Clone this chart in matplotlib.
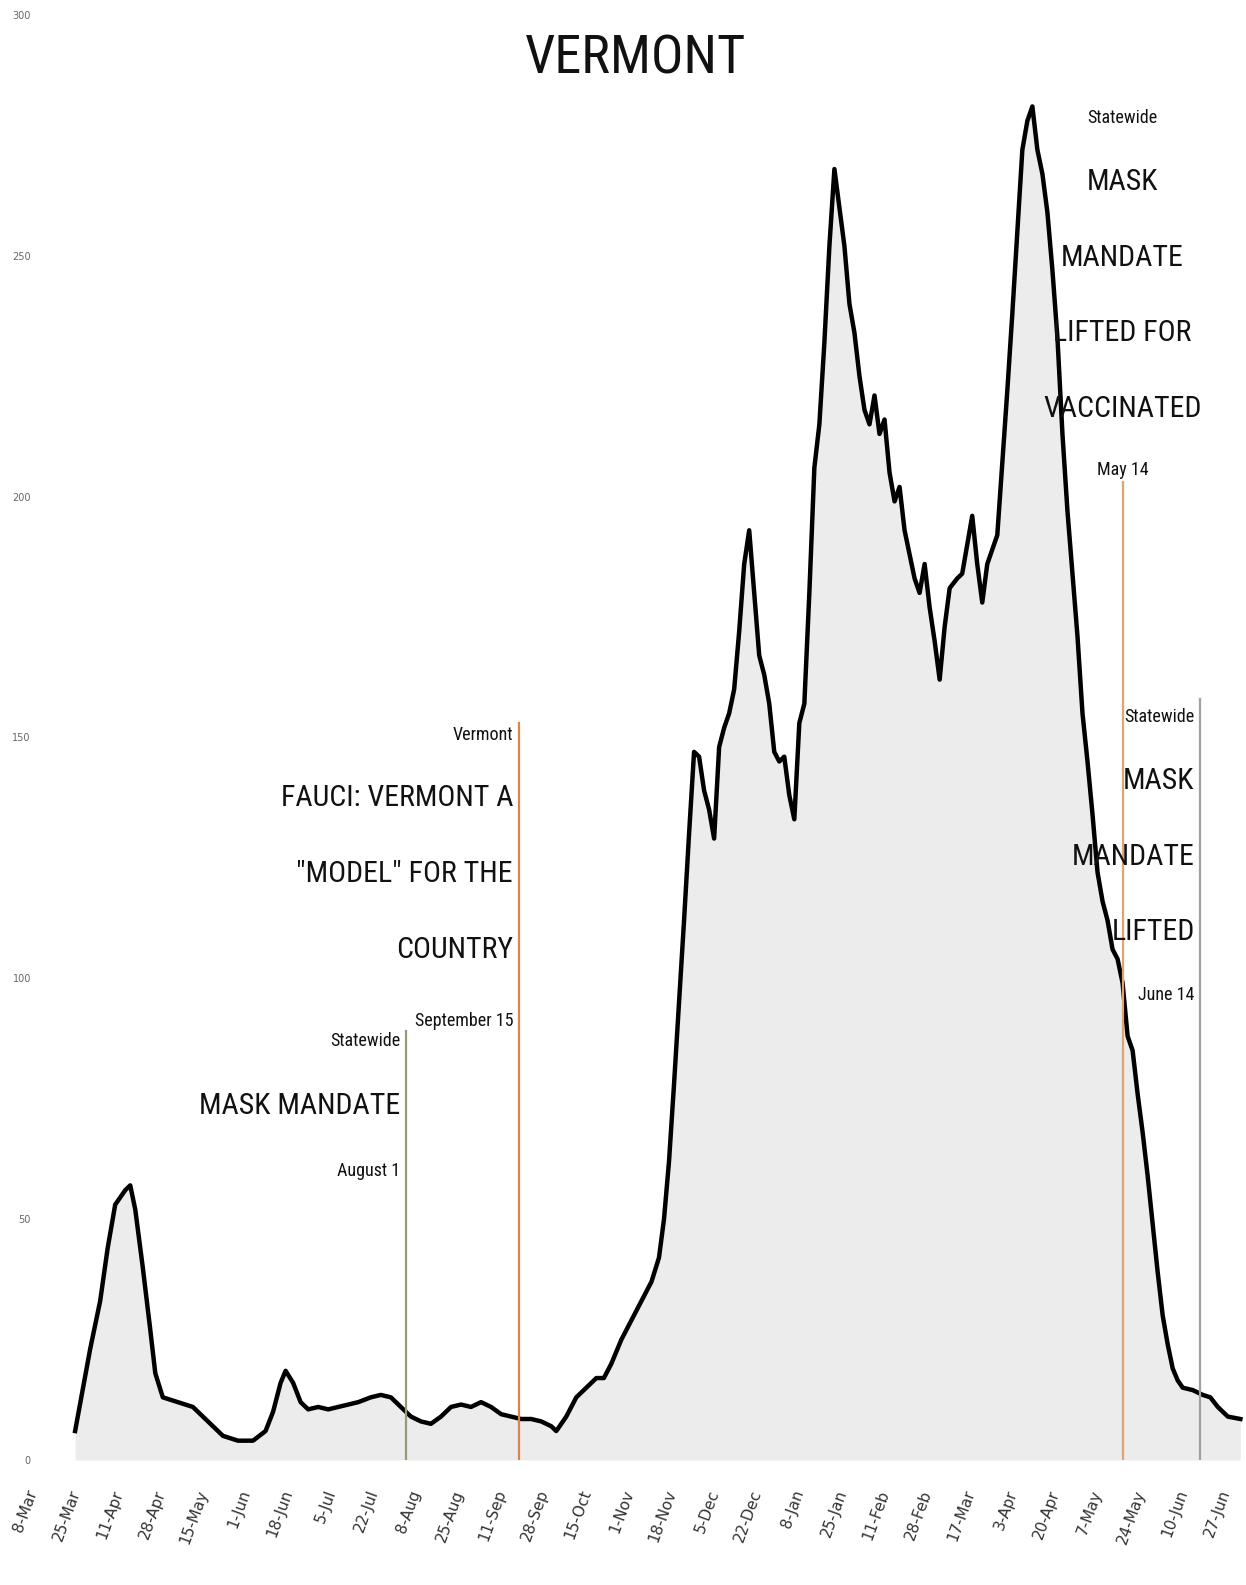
import matplotlib
matplotlib.use('Agg')
import matplotlib.pyplot as plt
from matplotlib import font_manager
import pandas as pd

# daily case average
dates = [
    '2020-03-22', '2020-03-28', '2020-04-01', '2020-04-04', '2020-04-07', '2020-04-11',
    '2020-04-13', '2020-04-15', '2020-04-18', '2020-04-21', '2020-04-23', '2020-04-26',
    '2020-05-02', '2020-05-08', '2020-05-14', '2020-05-20', '2020-05-26', '2020-06-01',
    '2020-06-06', '2020-06-09', '2020-06-12', '2020-06-14', '2020-06-17', '2020-06-20',
    '2020-06-23', '2020-06-27', '2020-07-01', '2020-07-05', '2020-07-09', '2020-07-13',
    '2020-07-18', '2020-07-22', '2020-07-26', '2020-07-30', '2020-08-03', '2020-08-07',
    '2020-08-11', '2020-08-15', '2020-08-19', '2020-08-23', '2020-08-27', '2020-08-31',
    '2020-09-04', '2020-09-08', '2020-09-12', '2020-09-16', '2020-09-20', '2020-09-24',
    '2020-09-28', '2020-09-30', '2020-10-04', '2020-10-08', '2020-10-12', '2020-10-16',
    '2020-10-19', '2020-10-22', '2020-10-26', '2020-10-30', '2020-11-03', '2020-11-07',
    '2020-11-10', '2020-11-12', '2020-11-14', '2020-11-16', '2020-11-18', '2020-11-20',
    '2020-11-22', '2020-11-24', '2020-11-26', '2020-11-28', '2020-11-30', '2020-12-02',
    '2020-12-04', '2020-12-06', '2020-12-08', '2020-12-10', '2020-12-12', '2020-12-14',
    '2020-12-16', '2020-12-18', '2020-12-20', '2020-12-22', '2020-12-24', '2020-12-26',
    '2020-12-28', '2020-12-30', '2021-01-01', '2021-01-03', '2021-01-05', '2021-01-07',
    '2021-01-09', '2021-01-11', '2021-01-13', '2021-01-15', '2021-01-17', '2021-01-19',
    '2021-01-21', '2021-01-23', '2021-01-25', '2021-01-27', '2021-01-29', '2021-01-31',
    '2021-02-02', '2021-02-04', '2021-02-06', '2021-02-08', '2021-02-10', '2021-02-12',
    '2021-02-14', '2021-02-16', '2021-02-18', '2021-02-20', '2021-02-22', '2021-02-24',
    '2021-02-26', '2021-02-28', '2021-03-02', '2021-03-04', '2021-03-06', '2021-03-09',
    '2021-03-11', '2021-03-13', '2021-03-15', '2021-03-17', '2021-03-19', '2021-03-21',
    '2021-03-23', '2021-03-25', '2021-03-27', '2021-03-29', '2021-03-31', '2021-04-02',
    '2021-04-04', '2021-04-06', '2021-04-08', '2021-04-10', '2021-04-12', '2021-04-14',
    '2021-04-16', '2021-04-18', '2021-04-20', '2021-04-22', '2021-04-24', '2021-04-26',
    '2021-04-28', '2021-04-30', '2021-05-02', '2021-05-04', '2021-05-06', '2021-05-08',
    '2021-05-10', '2021-05-12', '2021-05-14', '2021-05-16', '2021-05-18', '2021-05-20',
    '2021-05-22', '2021-05-24', '2021-05-26', '2021-05-28', '2021-05-30', '2021-06-01',
    '2021-06-03', '2021-06-05', '2021-06-07', '2021-06-11', '2021-06-15', '2021-06-18',
    '2021-06-21', '2021-06-25', '2021-06-30',
]
cases = [
    6, 23, 33, 44, 53, 56,
    57, 52, 40, 27, 18, 13,
    12, 11, 8, 5, 4, 4,
    6, 10, 16, 18.5, 16, 12,
    10.5, 11, 10.5, 11, 11.5, 12,
    13, 13.5, 13, 11, 9, 8,
    7.5, 9, 11, 11.5, 11, 12,
    11, 9.5, 9, 8.5, 8.5, 8,
    7, 6, 9, 13, 15, 17,
    17, 20, 25, 29, 33, 37,
    42, 50, 62, 78, 95, 112,
    130, 147, 146, 139, 135, 129,
    148, 152, 155, 160, 172, 186,
    193, 180, 167, 163, 157, 147,
    145, 146, 138, 133, 153, 157,
    180, 206, 215, 232, 252, 268,
    260, 252, 240, 234, 225, 218,
    215, 221, 213, 216, 205, 199,
    202, 193, 188, 183, 180, 186,
    177, 170, 162, 173, 181, 183,
    184, 190, 196, 186, 178, 186,
    189, 192, 207, 222, 238, 255,
    272, 278, 281, 272, 267, 259,
    247, 233, 213, 197, 184, 171,
    155, 145, 134, 122, 116, 112,
    106, 104, 99, 88, 85, 76,
    68, 59, 49, 39, 30, 24,
    19, 16.5, 15, 14.5, 13.5, 13,
    11, 9, 8.5,
]

# x ticks: every 17 days from 8-Mar-2020
tick_dates = pd.date_range('2020-03-08', periods=29, freq='17D')
tick_labels = [f"{d.day}-{d.strftime('%b')}" for d in tick_dates]

# event markers
event_dates = ['2020-08-01', '2020-09-15', '2021-05-14', '2021-06-14']
event_tops = [89, 153, 203, 158]
event_colors = ['#9a9878', '#d9864a', '#e2a46e', '#a0a0a0']
event_align = ['right', 'right', 'center', 'right']
event_texts = [
    ['Statewide', 'MASK MANDATE', 'August 1'],
    ['Vermont', 'FAUCI: VERMONT A', '"MODEL" FOR THE', 'COUNTRY', 'September 15'],
    ['Statewide', 'MASK', 'MANDATE', 'LIFTED FOR', 'VACCINATED', 'May 14'],
    ['Statewide', 'MASK', 'MANDATE', 'LIFTED', 'June 14'],
]
event_text_y = [
    [87, 73.5, 60],
    [150.5, 137.4, 121.7, 105.9, 91.1],
    [278.6, 265.3, 249.5, 234, 218.2, 205.5],
    [154.3, 141, 125.2, 109.6, 96.5],
]

# pick a narrow face if one is installed
names = {f.name for f in font_manager.fontManager.ttflist}
narrow = next((n for n in ['Liberation Sans Narrow', 'Roboto Condensed',
                           'DejaVu Sans Condensed', 'Liberation Sans'] if n in names),
              'DejaVu Sans')

x = pd.to_datetime(dates)

fig = plt.figure(figsize=(12.46, 15.85), dpi=100)
ax = fig.add_axes([0.0281, 0.0789, 0.9714, 0.9117])

ax.fill_between(x, cases, color='#ececec', lw=0)
ax.plot(x, cases, color='black', linewidth=3.2, solid_joinstyle='round')

for d, top, col, ha, lines, ys in zip(event_dates, event_tops, event_colors,
                                       event_align, event_texts, event_text_y):
    xd = pd.Timestamp(d)
    ax.plot([xd, xd], [0, top], color=col, linewidth=1.6)
    for i, (txt, yv) in enumerate(zip(lines, ys)):
        small = i == 0 or i == len(lines) - 1
        off = -4 if ha == 'right' else 0
        ax.annotate(txt, (xd, yv), xytext=(off, 0), textcoords='offset points',
                    ha=ha, va='center', family=narrow,
                    fontsize=13 if small else 21.5, color='#111111')

fig.text(0.51, 0.963, 'VERMONT', ha='center', va='center',
         family=narrow, fontsize=39, color='#111111')

ax.set_xlim(pd.Timestamp('2020-03-06'), pd.Timestamp('2021-07-02'))
ax.set_ylim(0, 300)
ax.set_yticks(range(0, 301, 50))
ax.set_xticks(tick_dates)
ax.set_xticklabels(tick_labels, rotation=70, ha='right', va='top',
                   fontsize=11, color='#333333')
ax.tick_params(axis='y', length=0, pad=3, labelsize=7, labelcolor='#666666')
ax.tick_params(axis='x', length=0, pad=20)
for s in ax.spines.values():
    s.set_visible(False)

plt.savefig('out.png', dpi=100)
